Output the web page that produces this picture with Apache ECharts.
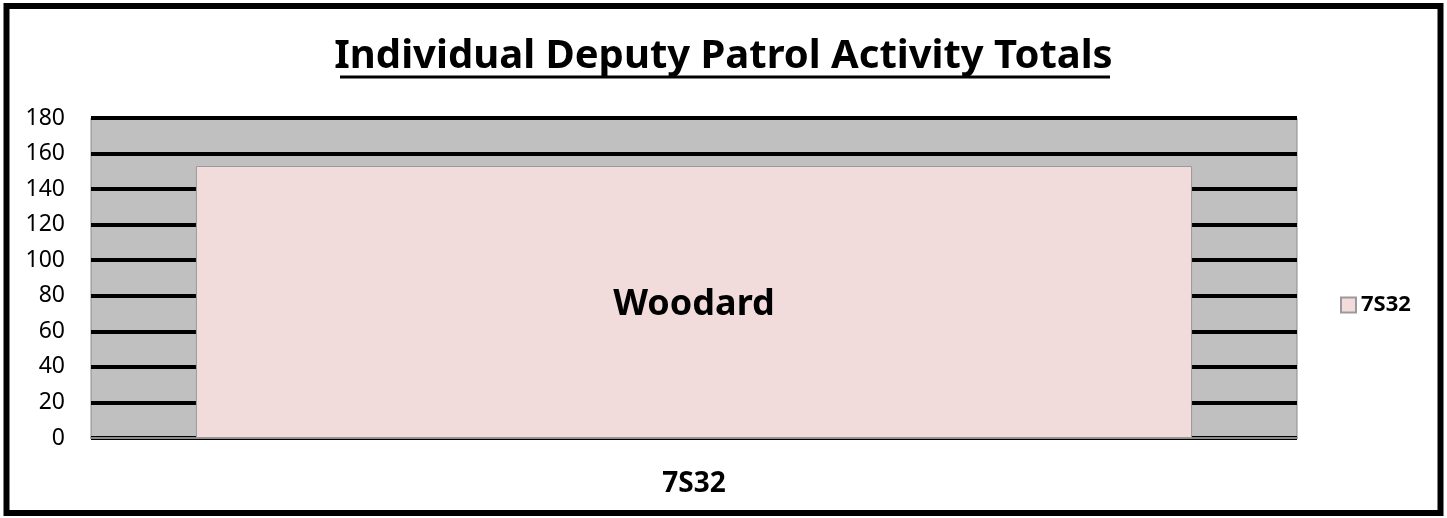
<!DOCTYPE html>
<html>
<head>
<meta charset="utf-8">
<script src="https://cdn.jsdelivr.net/npm/echarts@6/dist/echarts.min.js"></script>
<style>
html,body{margin:0;padding:0;background:#fff;}
#c{width:1447px;height:518px;}
</style>
</head>
<body>
<div id="c"></div>
<script>
const titleText = 'Individual Deputy Patrol Activity Totals';
const categories = ['7S32'];
const seriesName = '7S32';
const values = [153];
const barLabels = ['Woodard'];
const yMin = 0, yMax = 180, yInterval = 20;

const chart = echarts.init(document.getElementById('c'), null, {renderer: 'canvas'});
const FONT = '"Noto Sans", "Open Sans", sans-serif';
chart.setOption({
  animation: false,
  backgroundColor: '#fff',
  title: {
    text: titleText,
    left: 'center',
    top: 32,
    textStyle: {fontFamily: FONT, fontSize: 40, fontWeight: 'bold', color: '#000'}
  },
  legend: {
    data: [seriesName],
    left: 1335,
    top: 289,
    orient: 'vertical',
    itemWidth: 15,
    itemHeight: 15,
    itemGap: 6,
    icon: 'rect',
    textStyle: {fontFamily: FONT, fontSize: 22, fontWeight: 'bold', color: '#000'}
  },
  grid: {
    left: 91, right: 150, top: 118, bottom: 80,
    show: true,
    backgroundColor: '#C0C0C0',
    borderColor: '#8c8c8c',
    borderWidth: 1
  },
  xAxis: {
    type: 'category',
    data: categories,
    axisLine: {show: true, lineStyle: {color: '#8c8c8c', width: 2}},
    axisTick: {show: false},
    axisLabel: {margin: 32, fontFamily: FONT, fontSize: 28, fontWeight: 'bold', color: '#000'}
  },
  yAxis: {
    type: 'value',
    min: yMin, max: yMax, interval: yInterval,
    axisLine: {show: false},
    axisTick: {show: false},
    axisLabel: {margin: 26, fontFamily: FONT, fontSize: 23, color: '#000'},
    splitLine: {show: true, lineStyle: {color: '#000', width: 4}}
  },
  series: [{
    name: seriesName,
    type: 'bar',
    data: values,
    barWidth: '82.6%',
    itemStyle: {color: '#F2DCDB', borderColor: '#9a9a9a', borderWidth: 1},
    label: {
      show: true,
      position: 'inside',
      offset: [0, 3],
      formatter: p => barLabels[p.dataIndex],
      fontFamily: FONT, fontSize: 36, fontWeight: 'bold', color: '#000'
    }
  }],
  graphic: [
    {type: 'rect', shape: {x: 6.5, y: 6, width: 1434, height: 507}, style: {fill: null, stroke: '#000', lineWidth: 6}, silent: true},
    {type: 'line', shape: {x1: 340, y1: 77, x2: 1110, y2: 77}, style: {stroke: '#000', lineWidth: 3}, silent: true}
  ]
});
</script>
</body>
</html>
